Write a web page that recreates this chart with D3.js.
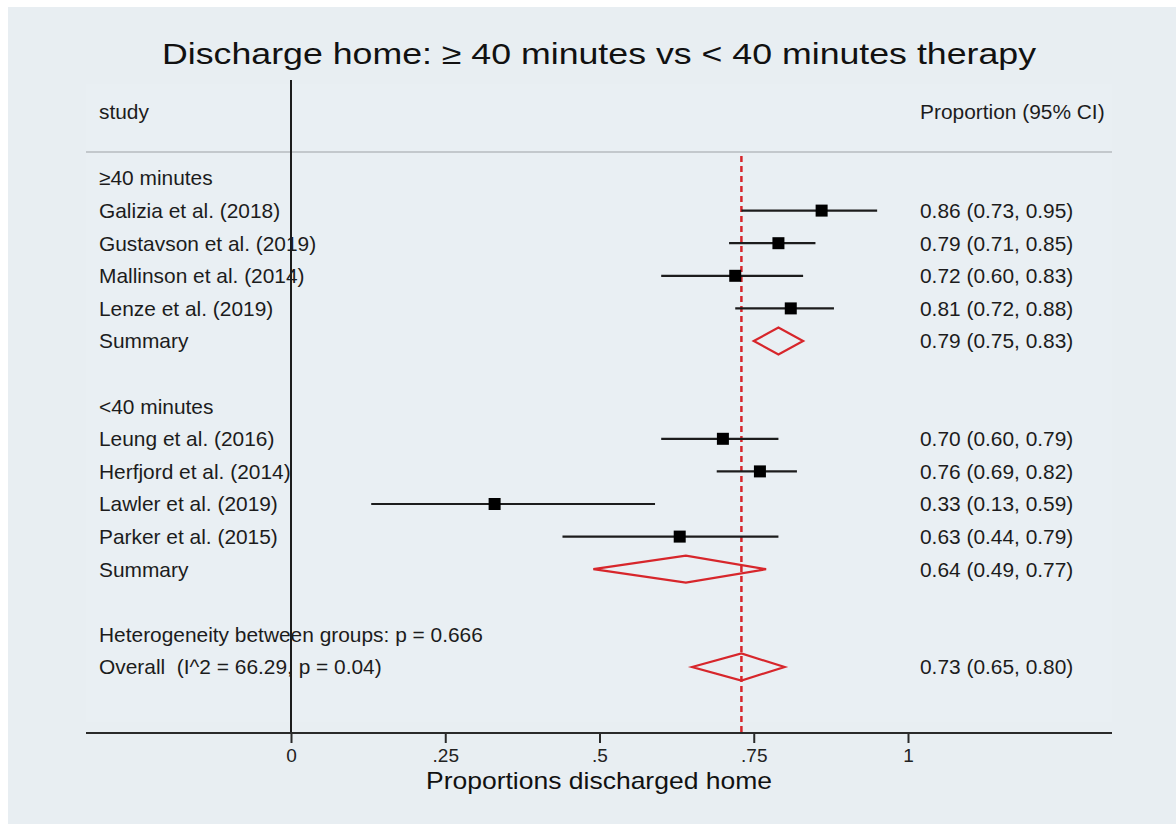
<!DOCTYPE html>
<html>
<head>
<meta charset="utf-8">
<script src="https://cdn.jsdelivr.net/npm/d3@7"></script>
<style>
  html, body { margin: 0; padding: 0; background: #ffffff; }
  svg { display: block; font-family: "Liberation Sans", Arial, Helvetica, sans-serif; }
  text { white-space: pre; }
  .x-axis .tick text { font-size: 19px; font-family: "Liberation Sans", Arial, sans-serif; }
</style>
</head>
<body>
<svg id="chart" width="1176" height="826"></svg>
<script>
// Forest plot: proportion discharged home, by therapy duration subgroup
const rowLabels = [
  "\u226540 minutes",
  "Galizia et al. (2018)",
  "Gustavson et al. (2019)",
  "Mallinson et al. (2014)",
  "Lenze et al. (2019)",
  "Summary",
  "",
  "<40 minutes",
  "Leung et al. (2016)",
  "Herfjord et al. (2014)",
  "Lawler et al. (2019)",
  "Parker et al. (2015)",
  "Summary",
  "",
  "Heterogeneity between groups: p = 0.666",
  "Overall  (I^2 = 66.29, p = 0.04)"
];
const rowTypes = [
  "group", "study", "study", "study", "study", "summary", "blank",
  "group", "study", "study", "study", "study", "summary", "blank",
  "note", "summary"
];
const estimates = [null, 0.86, 0.79, 0.72, 0.81, 0.79, null, null, 0.70, 0.76, 0.33, 0.63, 0.64, null, null, 0.73];
const lowerCI   = [null, 0.73, 0.71, 0.60, 0.72, 0.75, null, null, 0.60, 0.69, 0.13, 0.44, 0.49, null, null, 0.65];
const upperCI   = [null, 0.95, 0.85, 0.83, 0.88, 0.83, null, null, 0.79, 0.82, 0.59, 0.79, 0.77, null, null, 0.80];
const overallEstimate = 0.73;

const xTicks = [0, 0.25, 0.5, 0.75, 1];
const xTickLabels = ["0", ".25", ".5", ".75", "1"];

const titleText = "Discharge home: \u2265 40 minutes vs < 40 minutes therapy";
const xAxisTitle = "Proportions discharged home";
const leftHeader = "study";
const rightHeader = "Proportion (95% CI)";

// Layout
const W = 1176, H = 826;
const plotLeft = 86, plotRight = 1112;
const axisY = 733;
const headerY = 112, separatorY = 152;
const labelX = 99, valueX = 920;
const bodyFont = 20.9;
const ink = "#1c1c1c";
const red = "#d7262b";

const svg = d3.select("#chart");

// Backgrounds
svg.append("rect").attr("x", 8).attr("y", 7).attr("width", W - 8).attr("height", H - 9)
  .attr("fill", "#e8eef2");
svg.append("rect").attr("x", plotLeft).attr("y", 84).attr("width", plotRight - plotLeft).attr("height", 638)
  .attr("fill", "#e9eff3");

const x = d3.scaleLinear().domain([0, 1]).range([291, 908]);
const y = d3.scalePoint().domain(d3.range(rowLabels.length)).range([178, 667]);

// Title (wide-set, as in the original graph export)
svg.append("text").attr("x", (plotLeft + plotRight) / 2).attr("y", 54)
  .attr("dy", "0.35em").attr("text-anchor", "middle")
  .attr("font-size", 29.5).attr("fill", "#111")
  .attr("textLength", 874).attr("lengthAdjust", "spacingAndGlyphs")
  .text(titleText);

// Column headers
svg.append("text").attr("x", labelX).attr("y", headerY).attr("dy", "0.35em")
  .attr("font-size", bodyFont).attr("fill", ink).text(leftHeader);
svg.append("text").attr("x", valueX).attr("y", headerY).attr("dy", "0.35em")
  .attr("font-size", bodyFont).attr("fill", ink).text(rightHeader);

// Header separator
svg.append("line").attr("x1", plotLeft).attr("x2", plotRight)
  .attr("y1", separatorY).attr("y2", separatorY)
  .attr("stroke", "#c3c8cc").attr("stroke-width", 2);

// Null line at 0
svg.append("line").attr("x1", x(0)).attr("x2", x(0))
  .attr("y1", 80).attr("y2", axisY)
  .attr("stroke", ink).attr("stroke-width", 2);

// Overall estimate reference line
svg.append("line").attr("x1", x(overallEstimate)).attr("x2", x(overallEstimate))
  .attr("y1", 156).attr("y2", axisY)
  .attr("stroke", red).attr("stroke-width", 2.5).attr("stroke-dasharray", "6,4");

const idx = d3.range(rowLabels.length);

// Row labels
svg.append("g").selectAll("text").data(idx).join("text")
  .attr("x", labelX).attr("y", i => y(i)).attr("dy", "0.35em")
  .attr("font-size", bodyFont).attr("fill", ink)
  .text(i => rowLabels[i]);

// Estimate (95% CI) labels
const f2 = d3.format(".2f");
svg.append("g").selectAll("text").data(idx.filter(i => estimates[i] != null)).join("text")
  .attr("x", valueX).attr("y", i => y(i)).attr("dy", "0.35em")
  .attr("font-size", bodyFont).attr("fill", ink)
  .text(i => `${f2(estimates[i])} (${f2(lowerCI[i])}, ${f2(upperCI[i])})`);

// Study CI lines and squares
const studyRows = idx.filter(i => rowTypes[i] === "study");
const sq = 12;
svg.append("g").selectAll("line").data(studyRows).join("line")
  .attr("x1", i => x(lowerCI[i])).attr("x2", i => x(upperCI[i]))
  .attr("y1", i => y(i)).attr("y2", i => y(i))
  .attr("stroke", ink).attr("stroke-width", 2.2);
svg.append("g").selectAll("rect").data(studyRows).join("rect")
  .attr("x", i => x(estimates[i]) - sq / 2).attr("y", i => y(i) - sq / 2)
  .attr("width", sq).attr("height", sq).attr("fill", "#000");

// Summary diamonds
const summaryRows = idx.filter(i => rowTypes[i] === "summary");
const dh = 13.5;
svg.append("g").selectAll("path").data(summaryRows).join("path")
  .attr("d", i => {
    const cy = y(i);
    return `M${x(lowerCI[i])},${cy}L${x(estimates[i])},${cy - dh}L${x(upperCI[i])},${cy}L${x(estimates[i])},${cy + dh}Z`;
  })
  .attr("fill", "none").attr("stroke", red).attr("stroke-width", 2.2);

// X axis
svg.append("line").attr("x1", plotLeft).attr("x2", plotRight)
  .attr("y1", axisY).attr("y2", axisY)
  .attr("stroke", "#2a2a2a").attr("stroke-width", 2);
const axis = d3.axisBottom(x).tickValues(xTicks)
  .tickFormat((d, i) => xTickLabels[i]).tickSize(10).tickPadding(6).tickSizeOuter(0);
const ag = svg.append("g").attr("class", "x-axis")
  .attr("transform", `translate(0,${axisY})`).call(axis);
ag.select(".domain").remove();
ag.selectAll(".tick line").attr("stroke", "#2a2a2a").attr("stroke-width", 2);
ag.selectAll(".tick text").attr("fill", "#222");

// Axis title
svg.append("text").attr("x", (plotLeft + plotRight) / 2).attr("y", 781)
  .attr("dy", "0.35em").attr("text-anchor", "middle")
  .attr("font-size", 24).attr("fill", "#111")
  .attr("textLength", 346).attr("lengthAdjust", "spacingAndGlyphs")
  .text(xAxisTitle);
</script>
</body>
</html>
